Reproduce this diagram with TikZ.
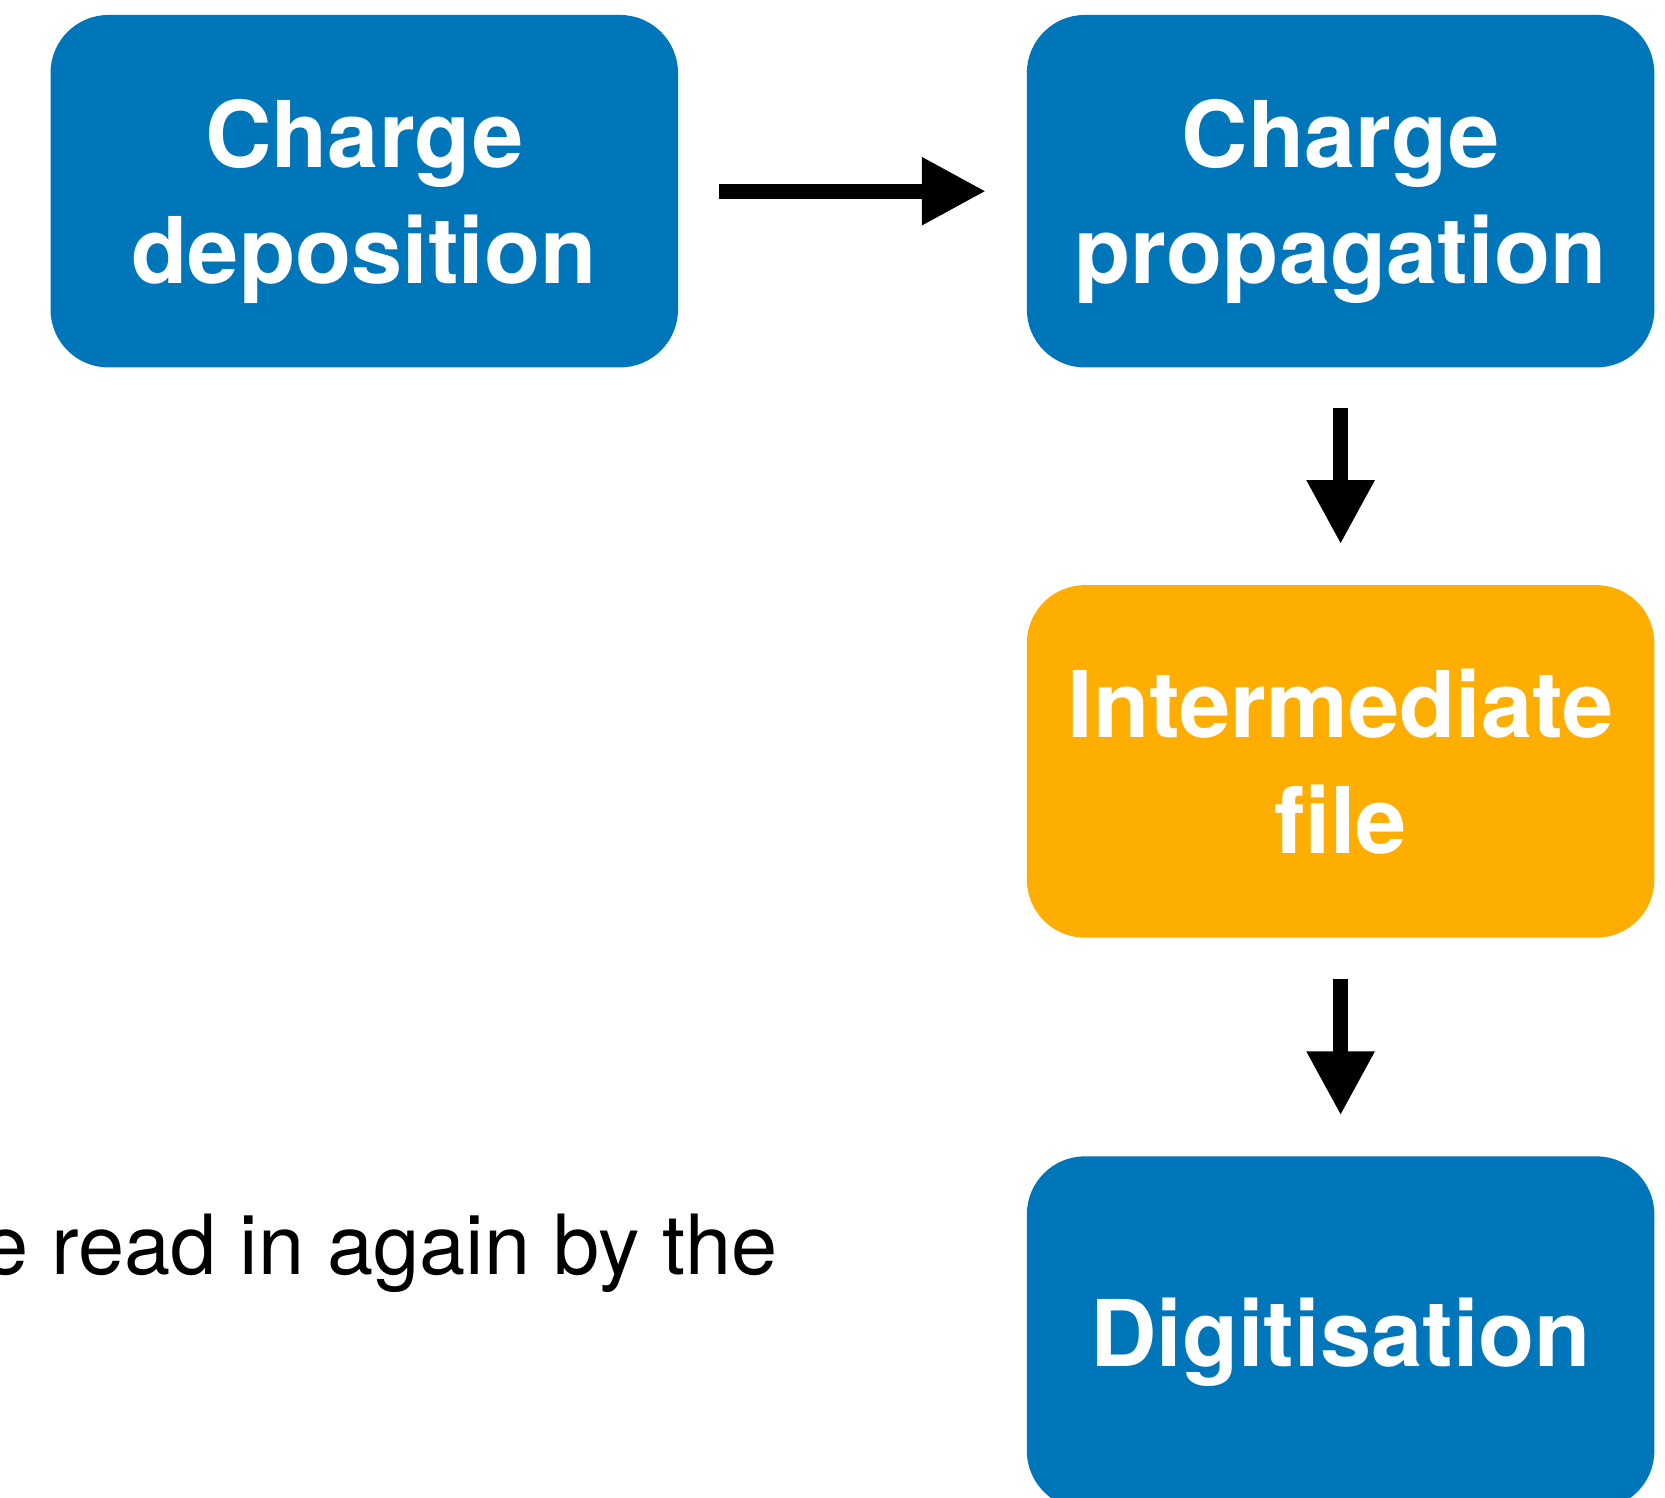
\documentclass[tikz,border=0pt]{standalone}
\usepackage{fontspec}
\setsansfont{TeX Gyre Heros}
\usepackage{xcolor}
\usepackage{tikz}
\usetikzlibrary{positioning,arrows.meta}
\definecolor{stageblue}{RGB}{0,118,186}
\definecolor{fileorange}{RGB}{254,174,0}
\tikzset{
  basic/.style  = {rectangle, rounded corners=29pt, minimum width=313.75pt,
                   minimum height=176.25pt, inner sep=0pt, outer sep=0pt,
                   align=center, text=white, text depth=0pt,
                   font=\sffamily\bfseries\fontsize{46}{58}\selectfont},
  stage/.style  = {basic, fill=stageblue},
  store/.style  = {basic, fill=fileorange},
  post/.style   = {-{Triangle[length=32pt,width=32pt]}, line width=7.5pt,
                   shorten <=20.5pt, shorten >=20.5pt},
  remark/.style = {anchor=base east, inner sep=0pt,
                   font=\sffamily\fontsize{41.5}{48}\selectfont}
}

\begin{document}
\begin{tikzpicture}[x=0.5pt,y=-0.5pt]
      \useasboundingbox (0,0) rectangle (1665,1498);
      \clip (0,0) rectangle (1665,1498);
      \node[stage] (A) at (364.25,191.2)  {Charge\\deposition};
      \node[stage] (B) at (1340.6,191.2)  {Charge\\propagation};
      \node[store] (C) at (1340.6,761.4)  {Intermediate\\file};
      \node[stage] (D) at (1340.6,1332.6) {Digitisation};
      \draw[post] (A) -- (B);
      \draw[post] (B) -- (C);
      \draw[post] (C) -- (D);
      \node[remark] (E) at (778,1274) {e read in again by the};
    \end{tikzpicture}
\end{document}
